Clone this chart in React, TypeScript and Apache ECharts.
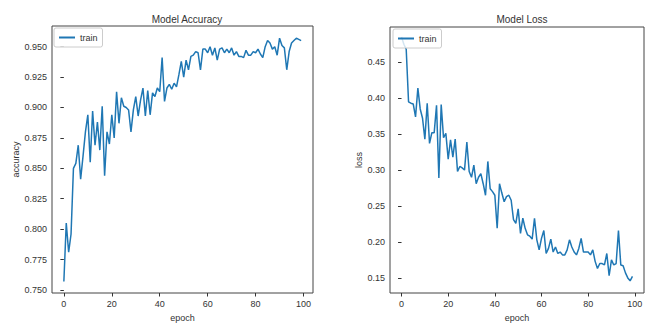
import React, { useEffect, useRef } from "react";
import * as echarts from "echarts";

const accuracy = [
  0.757, 0.805, 0.781, 0.796, 0.850, 0.854, 0.869, 0.841, 0.860, 0.880,
  0.894, 0.855, 0.897, 0.869, 0.888, 0.865, 0.901, 0.844, 0.880, 0.870,
  0.894, 0.875, 0.913, 0.887, 0.908, 0.901, 0.900, 0.898, 0.880, 0.898,
  0.909, 0.893, 0.906, 0.916, 0.893, 0.914, 0.894, 0.912, 0.909, 0.916,
  0.913, 0.941, 0.905, 0.916, 0.919, 0.915, 0.920, 0.917, 0.927, 0.938,
  0.925, 0.939, 0.931, 0.942, 0.943, 0.946, 0.945, 0.931, 0.948, 0.948,
  0.945, 0.950, 0.943, 0.949, 0.939, 0.948, 0.949, 0.945, 0.948, 0.945,
  0.949, 0.943, 0.946, 0.942, 0.942, 0.941, 0.947, 0.943, 0.943, 0.946,
  0.945, 0.948, 0.944, 0.941, 0.950, 0.955, 0.953, 0.948, 0.950, 0.943,
  0.957, 0.951, 0.949, 0.931, 0.946, 0.953, 0.955, 0.957, 0.956, 0.955,
];

const loss = [
  0.485, 0.475, 0.468, 0.395, 0.393, 0.392, 0.374, 0.414, 0.385, 0.372,
  0.343, 0.393, 0.337, 0.352, 0.352, 0.390, 0.289, 0.391, 0.345, 0.351,
  0.315, 0.342, 0.318, 0.343, 0.298, 0.305, 0.303, 0.300, 0.339, 0.298,
  0.290, 0.307, 0.281, 0.290, 0.295, 0.281, 0.265, 0.312, 0.274, 0.270,
  0.265, 0.219, 0.281, 0.268, 0.256, 0.263, 0.265, 0.258, 0.231, 0.226,
  0.246, 0.212, 0.233, 0.219, 0.210, 0.208, 0.204, 0.233, 0.203, 0.189,
  0.205, 0.216, 0.184, 0.191, 0.204, 0.186, 0.193, 0.184, 0.186, 0.182,
  0.182, 0.189, 0.203, 0.193, 0.186, 0.182, 0.191, 0.205, 0.186, 0.186,
  0.186, 0.182, 0.189, 0.173, 0.163, 0.170, 0.170, 0.168, 0.184, 0.153,
  0.175, 0.168, 0.170, 0.216, 0.168, 0.167, 0.157, 0.150, 0.146, 0.152,
];

const xTicks = [0, 20, 40, 60, 80, 100];
const accTicks = [0.75, 0.775, 0.8, 0.825, 0.85, 0.875, 0.9, 0.925, 0.95];
const lossTicks = [0.15, 0.2, 0.25, 0.3, 0.35, 0.4, 0.45];

const FONT = "Liberation Sans";
const TXT = "#333";
const LINE = "#1f77b4";

export default function App() {
  const ref = useRef<HTMLDivElement>(null);
  useEffect(() => {
    if (!ref.current) return;
    const chart = echarts.init(ref.current, undefined, { renderer: "svg" });
    const xAxisBase = (gridIndex: number) => ({
      type: "value",
      gridIndex,
      min: -4.95,
      max: 103.95,
      name: "epoch",
      nameLocation: "middle",
      nameGap: 20,
      nameTextStyle: { fontFamily: FONT, fontSize: 9, color: TXT },
      axisLine: { show: false },
      splitLine: { show: false },
      axisTick: { show: true, length: 3.5, customValues: xTicks, lineStyle: { color: TXT } },
      axisLabel: {
        customValues: xTicks,
        fontFamily: FONT,
        fontSize: 9,
        color: TXT,
        margin: 6,
      },
    });
    const legendBase = (left: number, top: number) => ({
      left,
      top,
      data: ["train"],
      orient: "vertical",
      icon: "rect",
      padding: [5, 5, 5, 5],
      itemWidth: 16,
      itemHeight: 2,
      backgroundColor: "rgba(255,255,255,0.8)",
      borderColor: "#cccccc",
      borderWidth: 1,
      borderRadius: 2,
      selectedMode: false,
      textStyle: { fontFamily: FONT, fontSize: 9, color: TXT },
    });
    chart.setOption({
      animation: false,
      title: [
        {
          text: "Model Accuracy",
          left: 182,
          textAlign: "center",
          top: 9,
          textStyle: { fontFamily: FONT, fontSize: 10, fontWeight: "normal", color: TXT },
        },
        {
          text: "Model Loss",
          left: 517,
          textAlign: "center",
          top: 9,
          textStyle: { fontFamily: FONT, fontSize: 10, fontWeight: "normal", color: TXT },
        },
      ],
      legend: [legendBase(54, 28), legendBase(393, 29)],
      grid: [
        { left: 52, top: 26, width: 261, height: 267, show: true, borderColor: "#444", borderWidth: 1, backgroundColor: "#fff" },
        { left: 390, top: 27, width: 254, height: 266, show: true, borderColor: "#444", borderWidth: 1, backgroundColor: "#fff" },
      ],
      xAxis: [xAxisBase(0), xAxisBase(1)],
      yAxis: [
        {
          type: "value",
          gridIndex: 0,
          min: 0.7475,
          max: 0.967,
          name: "accuracy",
          nameLocation: "middle",
          nameGap: 31,
          nameTextStyle: { fontFamily: FONT, fontSize: 9, color: TXT },
          axisLine: { show: false },
          splitLine: { show: false },
          axisTick: { show: true, length: 3.5, customValues: accTicks, lineStyle: { color: TXT } },
          axisLabel: {
            customValues: accTicks,
            formatter: (v: number) => v.toFixed(3),
            fontFamily: FONT,
            fontSize: 9,
            color: TXT,
            margin: 5,
          },
        },
        {
          type: "value",
          gridIndex: 1,
          min: 0.129,
          max: 0.499,
          name: "loss",
          nameLocation: "middle",
          nameGap: 24,
          nameTextStyle: { fontFamily: FONT, fontSize: 9, color: TXT },
          axisLine: { show: false },
          splitLine: { show: false },
          axisTick: { show: true, length: 3.5, customValues: lossTicks, lineStyle: { color: TXT } },
          axisLabel: {
            customValues: lossTicks,
            formatter: (v: number) => v.toFixed(2),
            fontFamily: FONT,
            fontSize: 9,
            color: TXT,
            margin: 5,
          },
        },
      ],
      series: [
        {
          name: "train",
          type: "line",
          xAxisIndex: 0,
          yAxisIndex: 0,
          symbol: "none",
          z: 1,
          lineStyle: { color: LINE, width: 1.5 },
          itemStyle: { color: LINE },
          data: accuracy.map((v, i) => [i, v]),
        },
        {
          name: "train",
          type: "line",
          xAxisIndex: 1,
          yAxisIndex: 1,
          symbol: "none",
          z: 1,
          lineStyle: { color: LINE, width: 1.5 },
          itemStyle: { color: LINE },
          data: loss.map((v, i) => [i, v]),
        },
      ],
    });
    return () => chart.dispose();
  }, []);
  return (
    <div
      ref={ref}
      style={{ position: "fixed", left: 0, top: 0, width: 653, height: 327, background: "#fff" }}
    />
  );
}
